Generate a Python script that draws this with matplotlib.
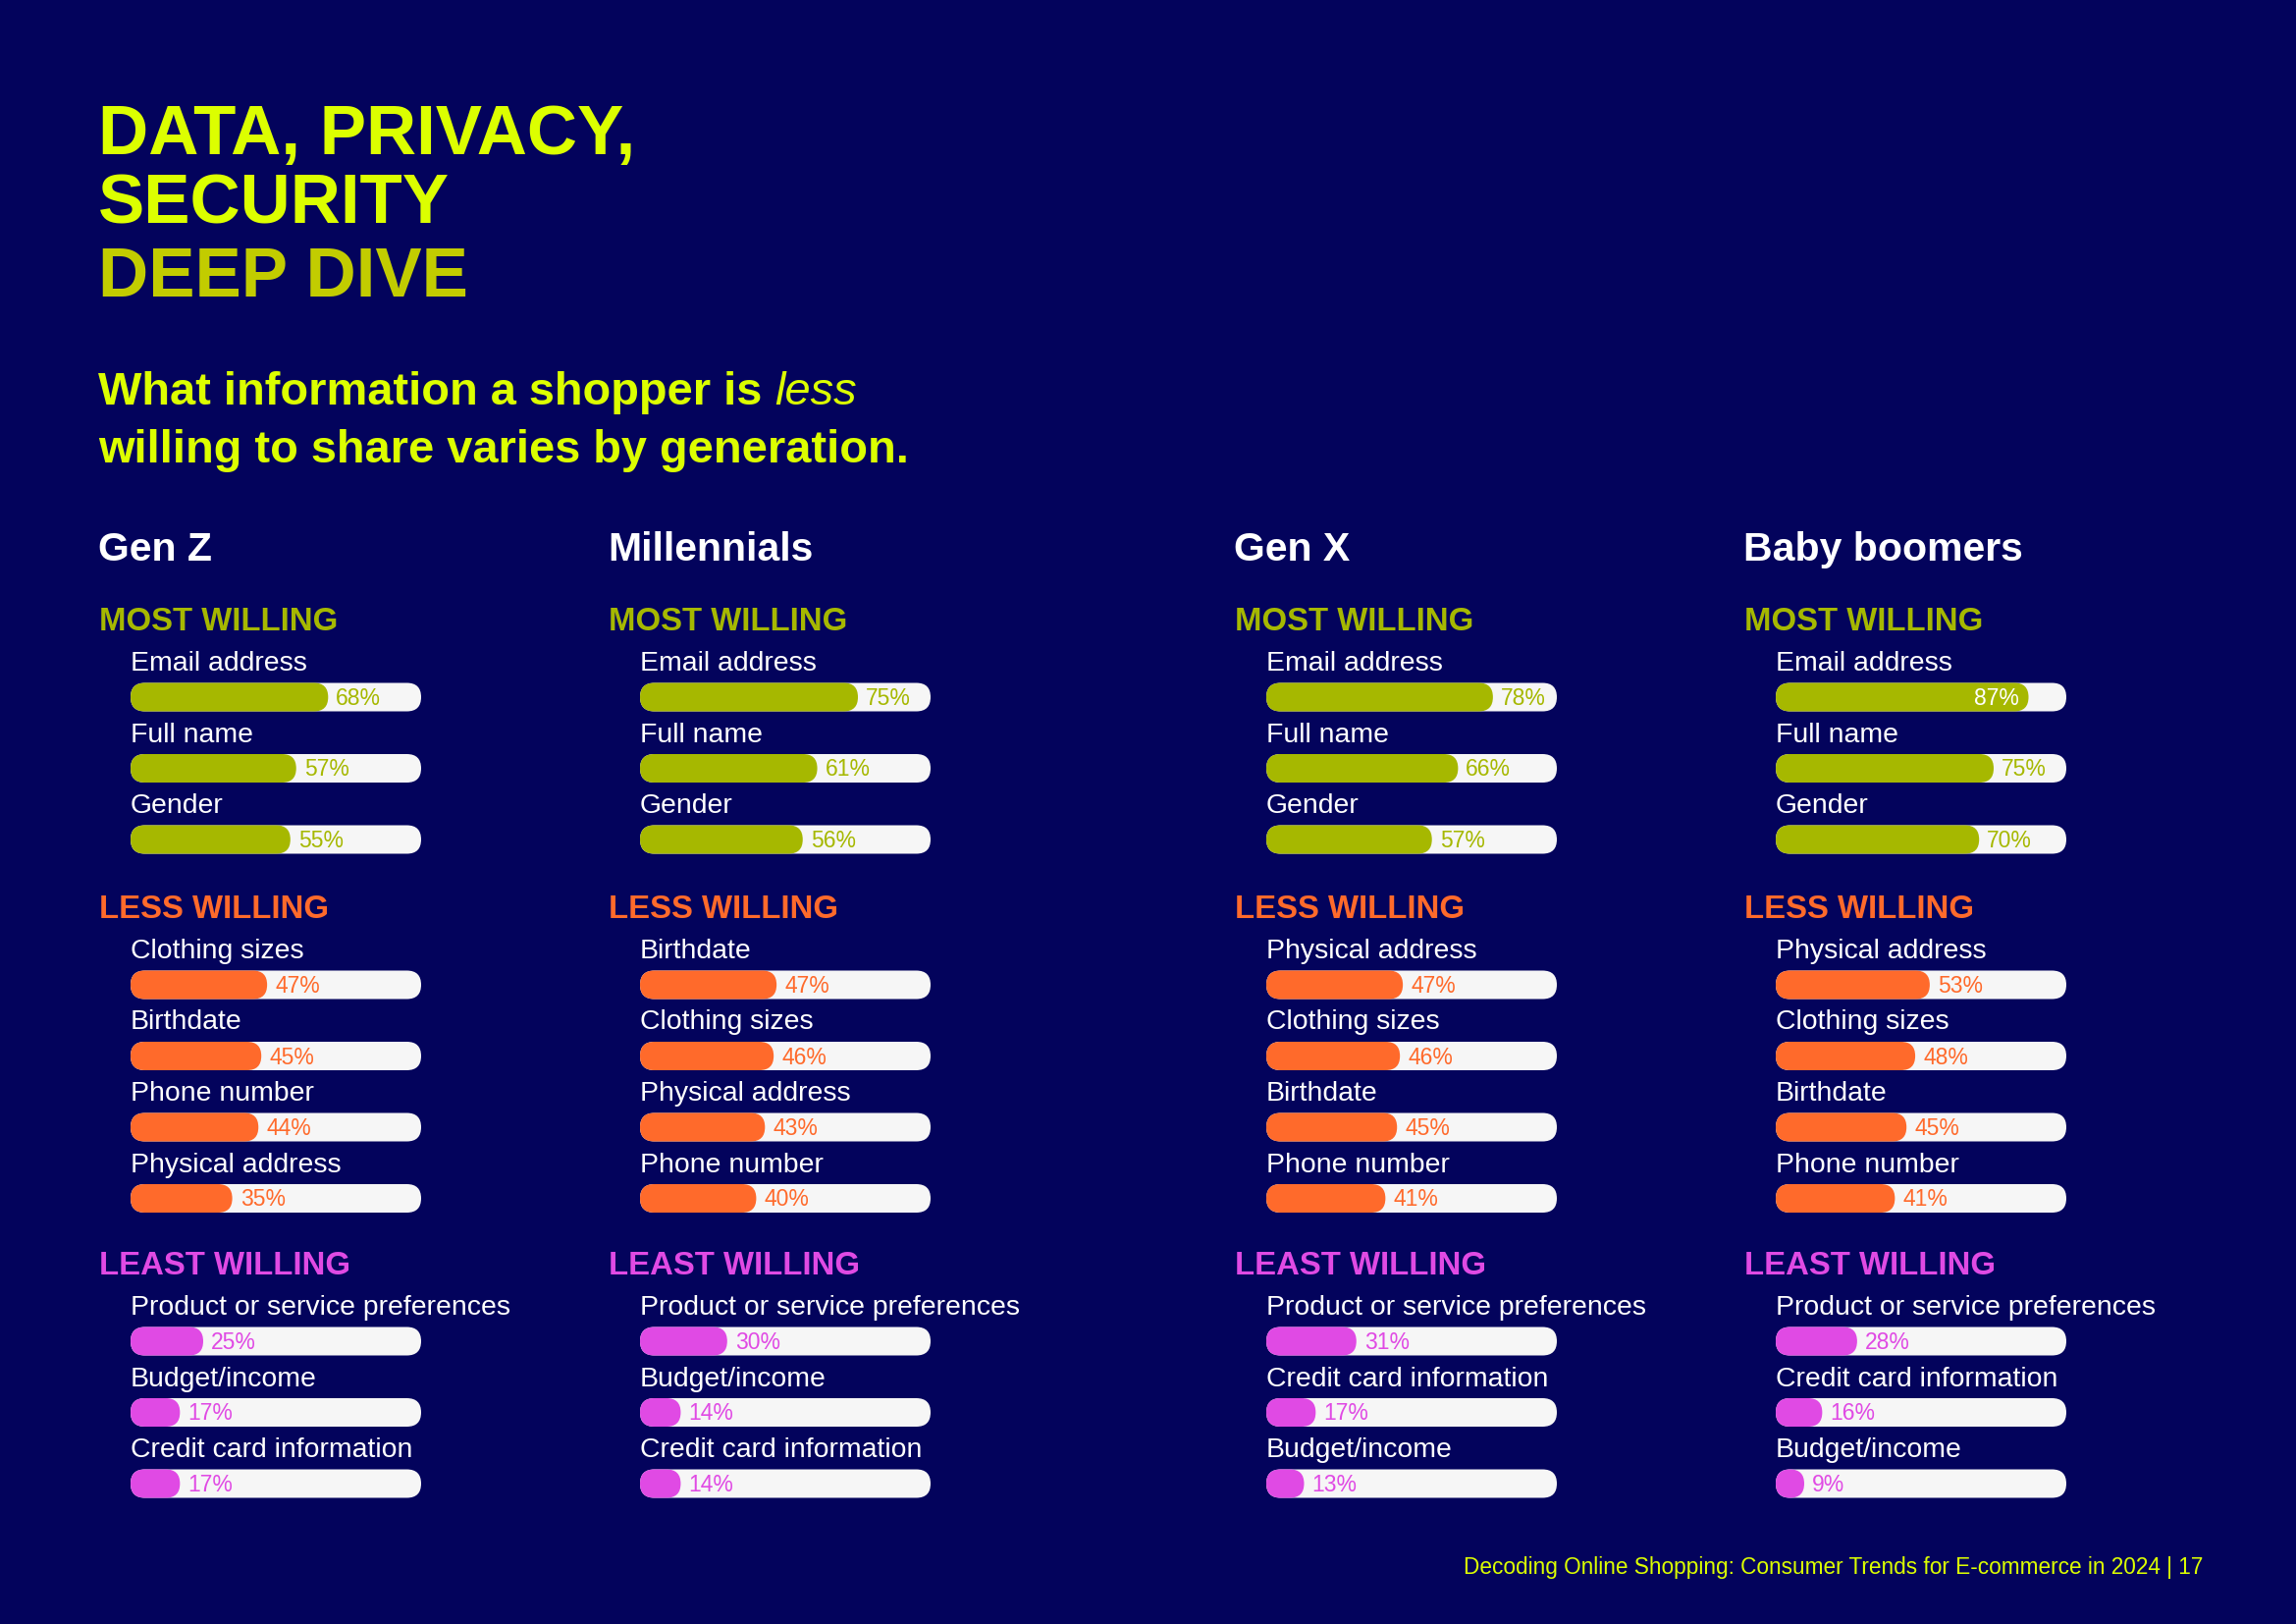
import matplotlib.pyplot as plt
from matplotlib.patches import FancyBboxPatch

# Data
generations = ["Gen Z", "Millennials", "Gen X", "Baby boomers"]

most_labels = ["Email address", "Full name", "Gender"]
most_genz = [68, 57, 55]
most_millennials = [75, 61, 56]
most_genx = [78, 66, 57]
most_boomers = [87, 75, 70]

less_labels_genz = ["Clothing sizes", "Birthdate", "Phone number", "Physical address"]
less_genz = [47, 45, 44, 35]
less_labels_millennials = ["Birthdate", "Clothing sizes", "Physical address", "Phone number"]
less_millennials = [47, 46, 43, 40]
less_labels_genx = ["Physical address", "Clothing sizes", "Birthdate", "Phone number"]
less_genx = [47, 46, 45, 41]
less_labels_boomers = ["Physical address", "Clothing sizes", "Birthdate", "Phone number"]
less_boomers = [53, 48, 45, 41]

least_labels_genz = ["Product or service preferences", "Budget/income", "Credit card information"]
least_genz = [25, 17, 17]
least_labels_millennials = ["Product or service preferences", "Budget/income", "Credit card information"]
least_millennials = [30, 14, 14]
least_labels_genx = ["Product or service preferences", "Credit card information", "Budget/income"]
least_genx = [31, 17, 13]
least_labels_boomers = ["Product or service preferences", "Credit card information", "Budget/income"]
least_boomers = [28, 16, 9]

# Colours
BG = "#03035c"
YELLOW = "#dcff00"
OLIVE_TITLE = "#c2cc00"
GREEN = "#a6b800"
ORANGE = "#ff6a2b"
MAGENTA = "#e04ae4"
TRACK = "#f6f6f6"

plt.rcParams['font.family'] = ['Liberation Sans', 'DejaVu Sans']

W, H = 2339, 1654
fig = plt.figure(figsize=(W / 100, H / 100), dpi=100)
fig.patch.set_facecolor(BG)
ax = fig.add_axes([0, 0, 1, 1])
ax.set_xlim(0, W)
ax.set_ylim(H, 0)
ax.axis('off')

# Title block
ax.text(100, 157, "DATA, PRIVACY,", color=YELLOW, fontsize=51, fontweight='bold', va='baseline')
ax.text(100, 228, "SECURITY", color=YELLOW, fontsize=51, fontweight='bold', va='baseline')
ax.text(100, 302, "DEEP DIVE", color=OLIVE_TITLE, fontsize=51, fontweight='bold', va='baseline')

t1 = ax.text(100, 412, "What information a shopper is ", color=YELLOW, fontsize=33.8,
             fontweight='bold', va='baseline')
ax.annotate("less", xy=(1, 0), xycoords=t1, color=YELLOW, fontsize=33.8,
            fontstyle='italic', va='bottom', ha='left')
ax.text(100, 471, "willing to share varies by generation.", color=YELLOW, fontsize=33.8,
        fontweight='bold', va='baseline')

ax.text(2244, 1603, "Decoding Online Shopping: Consumer Trends for E-commerce in 2024 | 17",
        color=YELLOW, fontsize=16.3, ha='right', va='baseline')

# Layout
col_x = [100, 619, 1257, 1776]
bar_w = 296
bar_h = 29
row_gap = 72.5

sections = [
    ("MOST WILLING", GREEN,
     [most_labels] * 4,
     [most_genz, most_millennials, most_genx, most_boomers], 630),
    ("LESS WILLING", ORANGE,
     [less_labels_genz, less_labels_millennials, less_labels_genx, less_labels_boomers],
     [less_genz, less_millennials, less_genx, less_boomers], 923),
    ("LEAST WILLING", MAGENTA,
     [least_labels_genz, least_labels_millennials, least_labels_genx, least_labels_boomers],
     [least_genz, least_millennials, least_genx, least_boomers], 1286),
]


def draw_bar(x0, yc, value, color):
    ax.add_patch(FancyBboxPatch((x0, yc - bar_h / 2), bar_w, bar_h,
                                boxstyle=f"round,pad=0,rounding_size={bar_h / 2}",
                                fc=TRACK, ec='none'))
    fw = max(value / 100 * bar_w, bar_h)
    ax.add_patch(FancyBboxPatch((x0, yc - bar_h / 2), fw, bar_h,
                                boxstyle=f"round,pad=0,rounding_size={bar_h / 2}",
                                fc=color, ec='none'))
    if value >= 80:
        ax.text(x0 + fw - 10, yc + 8, f"{value}%", color='white', fontsize=16.5,
                ha='right', va='baseline')
    else:
        ax.text(x0 + fw + 8, yc + 8, f"{value}%", color=color, fontsize=16.5,
                ha='left', va='baseline')


for g, (gen, gx) in enumerate(zip(generations, col_x)):
    ax.text(gx, 571, gen, color='white', fontsize=29.5, fontweight='bold', va='baseline')
    bx = gx + 33
    for title, color, labels, values, hy in sections:
        ax.text(gx + 1, hy + 12, title, color=color, fontsize=23.7, fontweight='bold',
                va='baseline')
        for i, (lab, val) in enumerate(zip(labels[g], values[g])):
            yc = hy + 80 + i * row_gap
            ax.text(bx, yc - 27, lab, color='white', fontsize=20.4, va='baseline')
            draw_bar(bx, yc, val, color)

fig.savefig("out.png", dpi=100, facecolor=BG)
